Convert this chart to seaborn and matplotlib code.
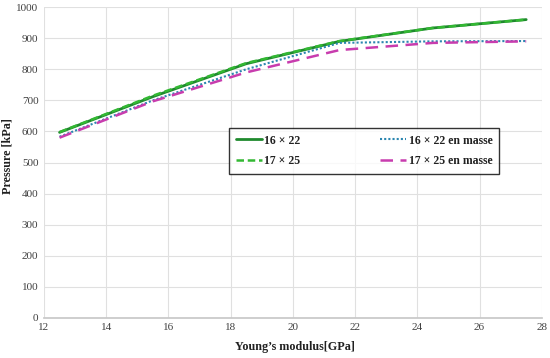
import matplotlib
matplotlib.use("Agg")
import matplotlib.pyplot as plt
import seaborn as sns
import pandas as pd

young = [12.5, 15.5, 18.5, 21.5, 24.5, 27.5]
p_16x22 = [597, 712, 818, 890, 933, 960]
p_17x25 = [598, 715, 820, 891, 933, 960]
p_16x22_m = [583, 700, 800, 885, 890, 891]
p_17x25_m = [580, 697, 790, 862, 885, 890]

series = ["16 × 22", "17 × 25", "16 × 22 en masse", "17 × 25 en masse"]
values = [p_16x22, p_17x25, p_16x22_m, p_17x25_m]

df = pd.DataFrame({
    "E": young * 4,
    "P": sum(values, []),
    "s": sum([[n] * len(young) for n in series], []),
})

sns.set_theme(style="whitegrid")
plt.rcParams['font.family'] = ['Liberation Serif', 'DejaVu Serif']

fig, ax = plt.subplots(figsize=(5.5, 3.58), dpi=100)
colors = {"16 × 22": "#1f8a2e", "17 × 25": "#33b833",
          "16 × 22 en masse": "#2b86b0", "17 × 25 en masse": "#c83cae"}
styles = {"16 × 22": ("-", 2.0), "17 × 25": ((0, (3, 1.5)), 1.8),
          "16 × 22 en masse": ((0, (1, 1)), 1.5), "17 × 25 en masse": ((0, (5, 3)), 1.8)}

for name in series:
    sub = df[df["s"] == name]
    ls, lw = styles[name]
    sns.lineplot(data=sub, x="E", y="P", ax=ax, color=colors[name],
                 linestyle=ls, linewidth=lw, label=name)

ax.set_xlim(12, 28)
ax.set_ylim(0, 1000)
ax.set_xticks(range(12, 29, 2))
ax.set_yticks(range(0, 1001, 100))
ax.grid(True, color="#e0e0e0", linewidth=0.8)
for s in ["left", "top", "right"]:
    ax.spines[s].set_visible(False)
ax.spines["bottom"].set_color("#c8c8c8")
ax.tick_params(axis="both", labelsize=8, colors="#404040", length=0, pad=4)
ax.set_xlabel("Young’s modulus[GPa]", fontsize=8.7, fontweight="bold", color="#202020")
ax.set_ylabel("Pressure [kPa]", fontsize=8.7, fontweight="bold", color="#202020")
ax.xaxis.set_label_coords(0.505, -0.073)
ax.yaxis.set_label_coords(-0.062, 0.52)

leg = ax.legend(ncol=2, loc="upper left", bbox_to_anchor=(0.36, 0.63),
                frameon=True, fancybox=False, edgecolor="black",
                prop={"weight": "bold", "size": 8.5}, columnspacing=6.8,
                handlelength=2.2, handletextpad=0.2, borderpad=0.55, labelspacing=0.72)
leg.get_frame().set_linewidth(1.0)
for t in leg.get_texts():
    t.set_color("#202020")

fig.subplots_adjust(left=0.08, right=0.985, top=0.98, bottom=0.112)
fig.savefig("out.png", dpi=100)
